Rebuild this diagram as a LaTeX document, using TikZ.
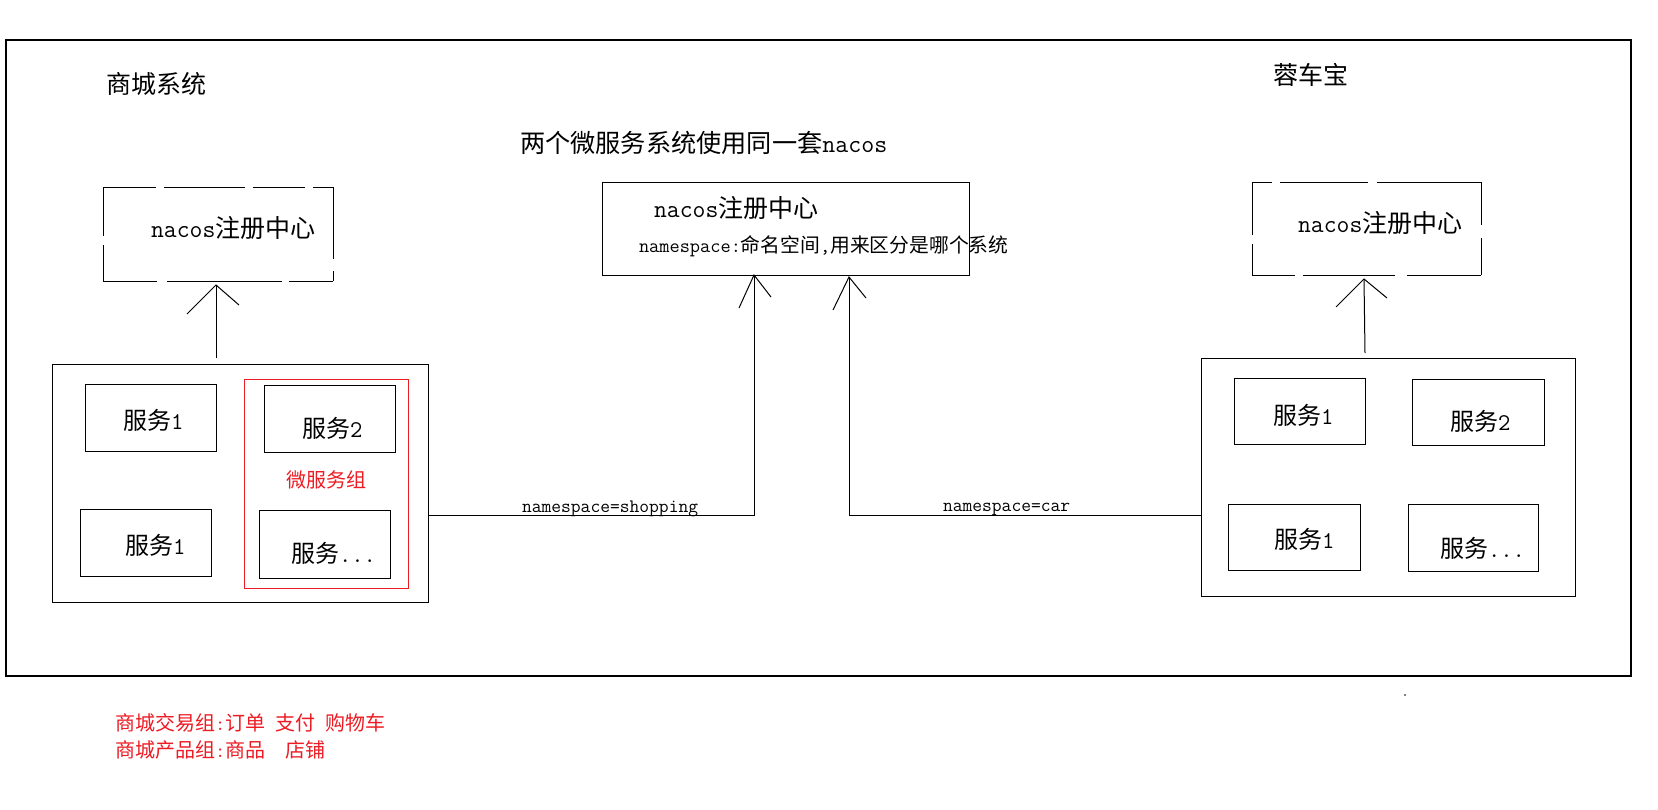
\documentclass[tikz,border=0pt]{standalone}
\usepackage{fontspec}
\newfontfamily\cjk{Noto Sans CJK SC}
\newcommand\fsz[1]{\fontsize{#1pt}{#1pt}\selectfont}
\definecolor{rd}{RGB}{237,28,36}
\begin{document}
\begin{tikzpicture}[x=1pt,y=-1pt,
  outerframe/.style={draw=black,line width=1.3pt,inner sep=0pt,outer sep=0pt,anchor=north west},
  plain/.style={draw=black,line width=1pt,inner sep=0pt,outer sep=0pt,anchor=north west},
  grp/.style={draw=rd,line width=1pt,inner sep=0pt,outer sep=0pt,anchor=north west},
  ghost/.style={inner sep=0pt,outer sep=0pt,anchor=north west},
  txt/.style={inner sep=0pt,outer sep=0pt,anchor=west,text=black},
  rtxt/.style={inner sep=0pt,outer sep=0pt,anchor=west,text=rd},
  btxt/.style={inner sep=0pt,outer sep=0pt,anchor=base west,text=black},
  conn/.style={draw=black,line width=1pt},
  dside/.style={draw=black,line width=1pt}
]
\fill[white] (0,0) rectangle (1658,809);
\useasboundingbox (0,0) rectangle (1658,809);

% outer frame
\node[outerframe,minimum width=1625pt,minimum height=636pt] (outer) at (6,40) {};

% titles
\node[txt] (tshop) at (106,84) {\fsz{25}\cjk 商城系统};
\node[txt] (tcar) at (1273,75) {\fsz{25}\cjk 蓉车宝};
\node[txt] (ttitle) at (520,143) {\fsz{25.2}\cjk 两个微服务系统使用同一套\ttfamily nacos};

% left dashed registry
\node[ghost,minimum width=230pt,minimum height=94pt] (lreg) at (103,187) {};
\draw[dside,dash pattern=on 53pt off 8pt on 81pt off 8pt on 52pt off 8pt on 40pt] (lreg.north west) -- (lreg.north east);
\draw[dside,dash pattern=on 54pt off 10pt on 115pt off 7pt on 50pt] (lreg.south west) -- (lreg.south east);
\draw[dside,dash pattern=on 49pt off 9pt on 40pt] (lreg.north west) -- (lreg.south west);
\draw[dside,dash pattern=on 72pt off 12pt on 14pt] (lreg.north east) -- (lreg.south east);
\node[txt] (lregt) at (151,228) {\fsz{25}\ttfamily nacos\cjk 注册中心};

% right dashed registry
\node[ghost,minimum width=229pt,minimum height=93pt] (rreg) at (1252,182) {};
\draw[dside,dash pattern=on 20pt off 8pt on 88pt off 9pt on 110pt] (rreg.north west) -- (rreg.north east);
\draw[dside,dash pattern=on 43pt off 8pt on 92pt off 12pt on 80pt] (rreg.south west) -- (rreg.south east);
\draw[dside,dash pattern=on 53pt off 9pt on 35pt] (rreg.north west) -- (rreg.south west);
\draw[dside,dash pattern=on 43pt off 13pt on 40pt] (rreg.north east) -- (rreg.south east);
\node[txt] (rregt) at (1298,223) {\fsz{25}\ttfamily nacos\cjk 注册中心};

% central registry
\node[plain,minimum width=367pt,minimum height=93pt] (creg) at (602,182) {};
\node[txt] (cregt) at (654,208) {\fsz{25}\ttfamily nacos\cjk 注册中心};
\node[txt] (cregn) at (639,246) {\fsz{19.8}\ttfamily namespace:\cjk 命名空间\ttfamily ,\cjk 用来区分是哪个系统};

% left system
\node[plain,minimum width=376pt,minimum height=238pt] (lsys) at (52,364) {};
\node[plain,minimum width=131pt,minimum height=67pt] (l1) at (85,384) {};
\node[txt] at (123,420) {\fsz{24}\cjk 服务\ttfamily 1};
\node[grp,minimum width=164pt,minimum height=209pt] (lgrp) at (244,379) {};
\node[plain,minimum width=131pt,minimum height=67pt] (l2) at (264,385) {};
\node[txt] at (302,428) {\fsz{24}\cjk 服务\ttfamily 2};
\node[rtxt] (lgrpt) at (286,480) {\fsz{20}\cjk 微服务组};
\node[plain,minimum width=131pt,minimum height=67pt] (l3) at (80,509) {};
\node[txt] at (125,545) {\fsz{24}\cjk 服务\ttfamily 1};
\node[plain,minimum width=131pt,minimum height=68pt] (l4) at (259,510) {};
\node[txt] at (291,553) {\fsz{24}\cjk 服务\ttfamily ...};

% right system
\node[plain,minimum width=374pt,minimum height=238pt] (rsys) at (1201,358) {};
\node[plain,minimum width=131pt,minimum height=66pt] (r1) at (1234,378) {};
\node[txt] at (1273,415) {\fsz{24}\cjk 服务\ttfamily 1};
\node[plain,minimum width=132pt,minimum height=66pt] (r2) at (1412,379) {};
\node[txt] at (1450,421) {\fsz{24}\cjk 服务\ttfamily 2};
\node[plain,minimum width=132pt,minimum height=66pt] (r3) at (1228,504) {};
\node[txt] at (1274,539) {\fsz{24}\cjk 服务\ttfamily 1};
\node[plain,minimum width=130pt,minimum height=67pt] (r4) at (1408,504) {};
\node[txt] at (1440,548) {\fsz{24}\cjk 服务\ttfamily ...};

% arrows to local registries
\coordinate (la) at (216,358);
\coordinate (lt) at (216,285);
\draw[conn] (la) -- (lt);
\draw[conn] ([shift={(-29,29)}]lt) -- (lt) -- ++(23,20);

\coordinate (ra) at (1365,353);
\coordinate (rt) at (1364,279);
\draw[conn] (ra) -- (rt);
\draw[conn] ([shift={(-28,28)}]rt) -- (rt) -- ++(23,19);

% connectors to central registry
\coordinate (cl) at (754,515);
\coordinate (cr) at (849,515);
\draw[conn] (lsys.east |- cl) -- (cl) -- (creg.south -| cl);
\draw[conn] ([shift={(-15,33)}]creg.south -| cl) -- (creg.south -| cl) -- ++(17,22);
\draw[conn] (rsys.west |- cr) -- (cr) -- ([yshift=-2pt]creg.south -| cr);
\draw[conn] ([shift={(-16,33)}]creg.south -| cr) ++(0,2) -- ++(16,-33) -- ++(17,21);

\node[btxt] (nshop) at (522,512) {\fsz{19}\ttfamily namespace=shopping};
\node[btxt] (ncar) at (943,511) {\fsz{19}\ttfamily namespace=car};

% small dot
\fill[black] (1405,695) circle (0.8);

% bottom notes
\node[rtxt] (note1) at (115,723) {\fsz{20}\cjk 商城交易组\ttfamily :\cjk 订单\hspace{10pt}支付\hspace{10pt}购物车};
\node[rtxt] (note2) at (115,750) {\fsz{20}\cjk 商城产品组\ttfamily :\cjk 商品\hspace{20pt}店铺};
\end{tikzpicture}
\end{document}
